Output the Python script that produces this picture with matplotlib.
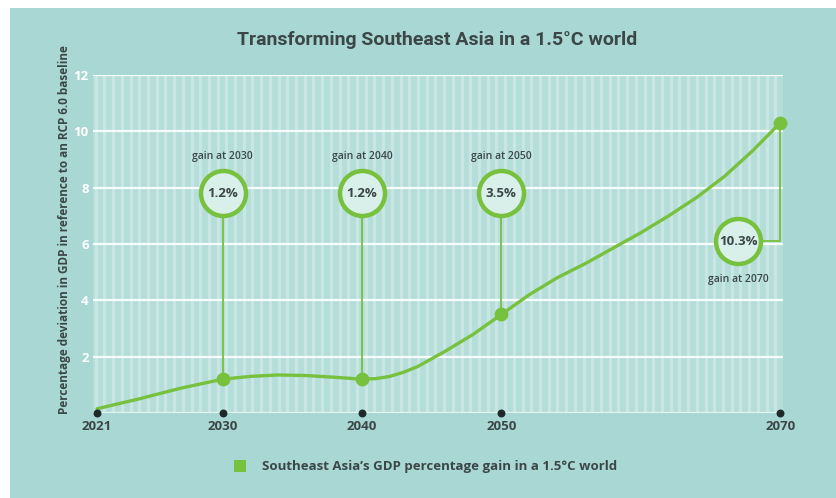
import numpy as np
import matplotlib.pyplot as plt
from matplotlib.patches import Rectangle

# data
years = [2021, 2024, 2027, 2030, 2032, 2034, 2036, 2038, 2040, 2041, 2042, 2043, 2044, 2046,
         2048, 2050, 2052, 2054, 2056, 2058, 2060, 2062, 2064, 2066, 2068, 2070]
gdp_gain = [0.15, 0.5, 0.88, 1.2, 1.3, 1.35, 1.33, 1.27, 1.2, 1.22, 1.3, 1.45, 1.65, 2.2,
            2.8, 3.5, 4.2, 4.8, 5.3, 5.85, 6.4, 7.0, 7.65, 8.4, 9.3, 10.3]

tick_years = [2021, 2030, 2040, 2050, 2070]
callout_years = [2030, 2040, 2050]
callout_values = [1.2, 1.2, 3.5]
callout_labels = ['1.2%', '1.2%', '3.5%']
last_year = 2070
last_value = 10.3
last_label = '10.3%'

title = 'Transforming Southeast Asia in a 1.5\u00b0C world'
ylabel = 'Percentage deviation in GDP in reference to an RCP 6.0 baseline'
legend_label = 'Southeast Asia\u2019s GDP percentage gain in a 1.5\u00b0C world'

bg = '#a9d7d3'
plot_bg = '#b5ddda'
stripe = '#c8e7e3'
green = '#78c13f'
dark = '#3b4747'

fig = plt.figure(figsize=(8.36, 4.98), dpi=100)
fig.patch.set_facecolor('white')
fig.patches.append(Rectangle((10 / 836, 0), 1, 1 - 8 / 498, transform=fig.transFigure,
                             facecolor=bg, edgecolor='none', zorder=-10))

ax = fig.add_axes([93 / 836, 1 - 413 / 498, 690 / 836, 338 / 498])
ax.set_facecolor(plot_bg)
ax.set_xlim(2020.71, 2070.2)
ax.set_ylim(0, 12)

# vertical stripes
for sx in np.arange(2020.9, 2070.2, 0.625):
    ax.axvline(sx, color=stripe, lw=2.4, zorder=0)

# horizontal grid
for gy in range(2, 13, 2):
    ax.axhline(gy, color='white', lw=1.6, alpha=0.9, zorder=1)
ax.axhline(0, color='#e8f4f2', lw=1.5, zorder=1)

for s in ax.spines.values():
    s.set_visible(False)

ax.set_yticks(range(2, 13, 2))
ax.set_yticklabels([str(v) for v in range(2, 13, 2)], color='white', fontweight='bold',
                   fontsize=9.5, family='Open Sans')
ax.tick_params(axis='y', length=0, pad=3)
ax.set_xticks(tick_years)
ax.set_xticklabels([str(v) for v in tick_years], color=dark, fontweight='bold',
                   fontsize=9.5, family='Open Sans')
ax.tick_params(axis='x', length=0, pad=5)

# main line
ax.plot(years, gdp_gain, color=green, lw=2.4, zorder=5, solid_capstyle='round',
        solid_joinstyle='round')

# baseline dots
ax.scatter(tick_years, [0] * len(tick_years), s=22, color='#1e2a2a', zorder=6, clip_on=False)

# callouts above the line
circle_y = 7.8
for cx, cv, cl in zip(callout_years, callout_values, callout_labels):
    ax.plot([cx, cx], [cv, circle_y - 0.8], color=green, lw=1.3, zorder=4)
    ax.scatter([cx], [cv], s=80, color=green, zorder=6)
    ax.scatter([cx], [circle_y], s=1050, facecolor='#d9efea', edgecolor=green, lw=3.2, zorder=7)
    ax.text(cx, circle_y, cl, ha='center', va='center', fontsize=9.5, fontweight='bold',
            color=dark, family='Open Sans', zorder=8)
    ax.text(cx, 9.1, 'gain at %d' % cx, ha='center', va='center', fontsize=7.5,
            color=dark, family='Open Sans', fontweight='semibold')

# callout for the final year
lx = 2067.0
ly = 6.1
ax.plot([lx + 1.5, last_year, last_year], [ly, ly, last_value], color=green, lw=1.3, zorder=4)
ax.scatter([last_year], [last_value], s=80, color=green, zorder=6, clip_on=False)
ax.scatter([lx], [ly], s=1050, facecolor='#d9efea', edgecolor=green, lw=3.2, zorder=7)
ax.text(lx, ly, last_label, ha='center', va='center', fontsize=9.5, fontweight='bold',
        color=dark, family='Open Sans', zorder=8)
ax.text(lx, 4.75, 'gain at %d' % last_year, ha='center', va='center', fontsize=7.5,
        color=dark, family='Open Sans', fontweight='semibold')

# title, y label, legend
fig.text(437 / 836, 1 - 40 / 498, title, ha='center', va='center', fontsize=14,
         fontweight='bold', color=dark, family='Roboto')
fig.text(65 / 836, 1 - 230 / 498, ylabel, ha='center', va='center', rotation=90,
         fontsize=8.5, fontweight='bold', color=dark, family='Open Sans')
fig.patches.append(Rectangle((234 / 836, 1 - 472 / 498), 12 / 836, 12 / 498,
                             transform=fig.transFigure, facecolor=green, edgecolor='none'))
fig.text(262 / 836, 1 - 466 / 498, legend_label, ha='left', va='center', fontsize=9.5,
         fontweight='bold', color=dark, family='Open Sans')

fig.savefig('out.png', dpi=100)
